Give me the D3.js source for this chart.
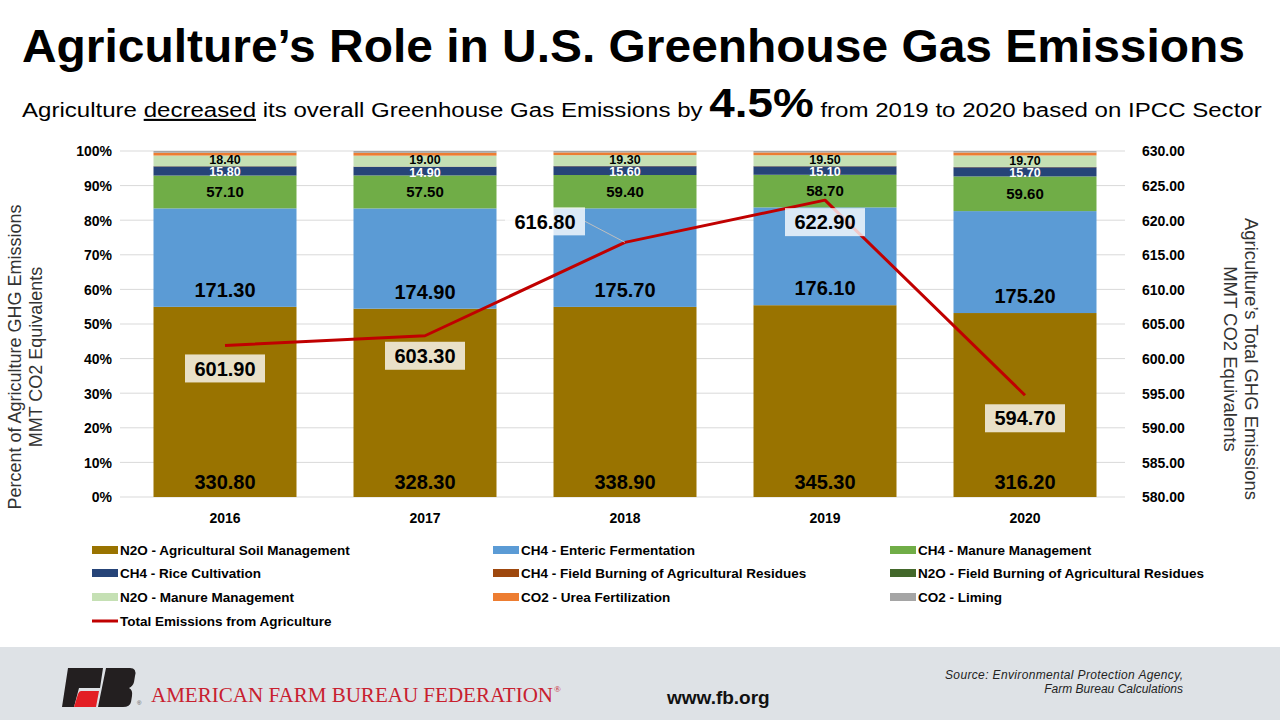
<!DOCTYPE html>
<html>
<head>
<meta charset="utf-8">
<script src="https://cdn.jsdelivr.net/npm/d3@7"></script>
<style>
  body { margin: 0; background: #fff; }
  svg { display: block; font-family: "Liberation Sans", Arial, sans-serif; }
</style>
</head>
<body>
<div id="chart"></div>
<script>
// data
var years = ["2016", "2017", "2018", "2019", "2020"];
var seriesNames = [
  "N2O - Agricultural Soil Management",
  "CH4 - Enteric Fermentation",
  "CH4 - Manure Management",
  "CH4 - Rice Cultivation",
  "CH4 - Field Burning of Agricultural Residues",
  "N2O - Field Burning of Agricultural Residues",
  "N2O - Manure Management",
  "CO2 - Urea Fertilization",
  "CO2 - Liming"
];
var soilMgmt     = [330.8, 328.3, 338.9, 345.3, 316.2];
var enteric      = [171.3, 174.9, 175.7, 176.1, 175.2];
var manureCH4    = [57.1, 57.5, 59.4, 58.7, 59.6];
var rice         = [15.8, 14.9, 15.6, 15.1, 15.7];
var burningCH4   = [0.4, 0.4, 0.4, 0.4, 0.4];
var burningN2O   = [0.2, 0.2, 0.2, 0.2, 0.2];
var manureN2O    = [18.4, 19.0, 19.3, 19.5, 19.7];
var urea         = [4.9, 5.0, 4.8, 5.0, 5.1];
var liming       = [3.0, 3.1, 2.5, 2.6, 2.6];
var totalEmissions = [601.9, 603.3, 616.8, 622.9, 594.7];
var pctTicks = [0, 0.1, 0.2, 0.3, 0.4, 0.5, 0.6, 0.7, 0.8, 0.9, 1];
var totTicks = [580, 585, 590, 595, 600, 605, 610, 615, 620, 625, 630];

var seriesValues = [soilMgmt, enteric, manureCH4, rice, burningCH4, burningN2O, manureN2O, urea, liming];
var colors = ["#997300", "#5b9bd5", "#70ad47", "#264478", "#9e480e", "#43682b", "#c5e0b4", "#ed7d31", "#a5a5a5"];
var lineColor = "#c00000";

var width = 1280, height = 720;
var svg = d3.select("#chart").append("svg")
  .attr("width", width).attr("height", height);

// ---- title ----
svg.append("text")
  .attr("x", 22).attr("y", 62)
  .attr("textLength", 1223).attr("lengthAdjust", "spacingAndGlyphs")
  .style("font-size", "47px").style("font-weight", "bold")
  .text("Agriculture\u2019s Role in U.S. Greenhouse Gas Emissions");

var sub = svg.append("text")
  .attr("x", 0).attr("y", 117)
  .style("font-size", "21px").attr("fill", "#000");
sub.append("tspan").text("Agriculture ");
sub.append("tspan").style("text-decoration", "underline").text("decreased");
sub.append("tspan").text(" its overall Greenhouse Gas Emissions by ");
sub.append("tspan").style("font-size", "40px").style("font-weight", "bold").text("4.5%");
sub.append("tspan").text("  from 2019 to 2020 based on IPCC Sector");
var subLen = sub.node().getComputedTextLength();
sub.attr("transform", "translate(22,0) scale(" + (1240 / subLen) + ",1)");

// ---- scales ----
var x = d3.scaleBand().domain(years).range([125, 1125]).paddingInner(0.285).paddingOuter(0.1425);
var yPct = d3.scaleLinear().domain([0, 1]).range([497, 151]);
var yTot = d3.scaleLinear().domain([580, 630]).range([497, 151]);

// gridlines
svg.append("g").selectAll("line").data(pctTicks).enter().append("line")
  .attr("x1", 120).attr("x2", 1125)
  .attr("y1", function(d) { return yPct(d); })
  .attr("y2", function(d) { return yPct(d); })
  .attr("stroke", "#d9d9d9").attr("stroke-width", 1);

// left axis
var leftAxis = svg.append("g").attr("transform", "translate(112,0)")
  .call(d3.axisLeft(yPct).tickValues(pctTicks).tickFormat(d3.format(".0%")).tickSize(0).tickPadding(0));
leftAxis.select(".domain").remove();
leftAxis.selectAll("text").style("font-size", "14px").style("font-weight", "bold")
  .style("font-family", "Liberation Sans, Arial, sans-serif").attr("fill", "#000").attr("dy", "0.35em");

// right axis
var rightAxis = svg.append("g").attr("transform", "translate(1142,0)")
  .call(d3.axisRight(yTot).tickValues(totTicks).tickFormat(d3.format(".2f")).tickSize(0).tickPadding(0));
rightAxis.select(".domain").remove();
rightAxis.selectAll("text").style("font-size", "14px").style("font-weight", "bold")
  .style("font-family", "Liberation Sans, Arial, sans-serif").attr("fill", "#000").attr("dy", "0.35em");

// bottom axis
var bottomAxis = svg.append("g").attr("transform", "translate(0,510)")
  .call(d3.axisBottom(x).tickSize(0).tickPadding(0));
bottomAxis.select(".domain").remove();
bottomAxis.selectAll("text").style("font-size", "14px").style("font-weight", "bold")
  .style("font-family", "Liberation Sans, Arial, sans-serif").attr("fill", "#000").attr("dy", "0.9em");

// axis titles
var lt = svg.append("text").attr("transform", "translate(21,357) rotate(-90)")
  .attr("text-anchor", "middle").style("font-size", "18px").attr("fill", "#333");
lt.append("tspan").attr("x", 0).attr("dy", 0).text("Percent of Agriculture GHG Emissions");
lt.append("tspan").attr("x", 0).attr("dy", 21).text("MMT CO2 Equivalents");

var rt = svg.append("text").attr("transform", "translate(1245,359) rotate(90)")
  .attr("text-anchor", "middle").style("font-size", "18.5px").attr("fill", "#333");
rt.append("tspan").attr("x", 0).attr("dy", 0).text("Agriculture\u2019s Total GHG Emissions");
rt.append("tspan").attr("x", 0).attr("dy", 21).text("MMT CO2 Equivalents");

// ---- stacked percent bars ----
var rows = years.map(function(y, i) {
  var row = { year: y };
  var tot = d3.sum(seriesValues, function(s) { return s[i]; });
  seriesValues.forEach(function(s, k) { row["s" + k] = s[i] / tot; row["v" + k] = s[i]; });
  return row;
});
var keys = seriesValues.map(function(s, k) { return "s" + k; });
var stacked = d3.stack().keys(keys)(rows);

var layers = svg.append("g").selectAll("g").data(stacked).enter().append("g")
  .attr("fill", function(d, k) { return colors[k]; });
layers.selectAll("rect").data(function(d) { return d; }).enter().append("rect")
  .attr("x", function(d) { return x(d.data.year); })
  .attr("width", x.bandwidth())
  .attr("y", function(d) { return yPct(d[1]); })
  .attr("height", function(d) { return yPct(d[0]) - yPct(d[1]); });

// segment labels (base = placed just inside the segment's bottom, shift = small nudge)
var labelStyle = {
  0: { size: 20, color: "#000", base: 15 },
  1: { size: 20, color: "#000", base: 17 },
  2: { size: 15, color: "#000" },
  3: { size: 12.5, color: "#fff", shift: 1 },
  6: { size: 12.5, color: "#000", shift: -1 }
};
stacked.forEach(function(layer, k) {
  var st = labelStyle[k];
  if (!st) return;
  svg.append("g").selectAll("text").data(layer).enter().append("text")
    .attr("x", function(d) { return x(d.data.year) + x.bandwidth() / 2; })
    .attr("y", function(d) {
      if (st.base) return yPct(d[0]) - st.base;
      return (yPct(d[0]) + yPct(d[1])) / 2 + (st.shift || 0);
    })
    .attr("dy", "0.35em")
    .attr("text-anchor", "middle")
    .style("font-size", st.size + "px").style("font-weight", "bold")
    .attr("fill", st.color)
    .text(function(d) { return d3.format(".2f")(d.data["v" + k]); });
});

// ---- total line ----
var cx = function(i) { return x(years[i]) + x.bandwidth() / 2; };
var line = d3.line()
  .x(function(d, i) { return cx(i); })
  .y(function(d) { return yTot(d); });
svg.append("path").datum(totalEmissions)
  .attr("d", line).attr("fill", "none")
  .attr("stroke", lineColor).attr("stroke-width", 3).attr("stroke-linejoin", "round");

// line labels (offsets of the label boxes from their points)
var labelOffsets = [[0, 23], [0, 20], [-80, -21], [0, 22], [0, 23]];
totalEmissions.forEach(function(v, i) {
  var px = cx(i), py = yTot(v);
  var lx = px + labelOffsets[i][0], ly = py + labelOffsets[i][1];
  if (i === 2) {
    svg.append("line").attr("x1", lx + 40).attr("y1", ly)
      .attr("x2", px).attr("y2", py).attr("stroke", "#bfbfbf").attr("stroke-width", 1);
  }
  svg.append("rect").attr("x", lx - 40).attr("y", ly - 14).attr("width", 80).attr("height", 28)
    .attr("fill", "#fff").attr("fill-opacity", 0.78);
  svg.append("text").attr("x", lx).attr("y", ly).attr("dy", "0.36em")
    .attr("text-anchor", "middle").style("font-size", "20px").style("font-weight", "bold")
    .text(d3.format(".2f")(v));
});

// ---- legend ----
var legendCols = [92, 493, 890], legendRows = [550, 573, 597, 621];
var legendItems = seriesNames.map(function(n, k) { return { name: n, color: colors[k], line: false }; });
legendItems.push({ name: "Total Emissions from Agriculture", color: lineColor, line: true });
var leg = svg.append("g").selectAll("g").data(legendItems).enter().append("g")
  .attr("transform", function(d, i) {
    return "translate(" + legendCols[i % 3] + "," + legendRows[Math.floor(i / 3)] + ")";
  });
leg.filter(function(d) { return !d.line; }).append("rect")
  .attr("x", 0).attr("y", -4).attr("width", 26).attr("height", 8)
  .attr("fill", function(d) { return d.color; });
leg.filter(function(d) { return d.line; }).append("line")
  .attr("x1", 0).attr("x2", 26).attr("y1", 0).attr("y2", 0)
  .attr("stroke", function(d) { return d.color; }).attr("stroke-width", 3);
leg.append("text").attr("x", 28).attr("dy", "0.35em")
  .style("font-size", "13.5px").style("font-weight", "bold")
  .text(function(d) { return d.name; });

// ---- footer ----
svg.append("rect").attr("x", 0).attr("y", 647).attr("width", width).attr("height", 73).attr("fill", "#dee2e6");
var logo = svg.append("g");
logo.append("path").attr("d", "M68,668 L103,668 L100,688 L79,688 L74,707 L62,707 Z").attr("fill", "#231f20");
logo.append("path").attr("d", "M81,691 L99,691 L96,707 L74,707 L78,694 Q79,691 81,691 Z").attr("fill", "#e31e24");
logo.append("path").attr("d", "M106,668 L130,668 Q137,668 135,676 L134,682 Q133,686 129,688 Q133,690 132,696 L131,702 Q130,707 123,707 L98,707 Z").attr("fill", "#231f20");
svg.append("text").attr("x", 137).attr("y", 705)
  .style("font-size", "6px").attr("fill", "#555").text("\u00ae");
svg.append("text").attr("x", 151).attr("y", 702)
  .attr("textLength", 402).attr("lengthAdjust", "spacingAndGlyphs")
  .style("font-family", "Liberation Serif, Times New Roman, serif").style("font-size", "21px")
  .attr("fill", "#c8202f").text("AMERICAN FARM BUREAU FEDERATION");
svg.append("text").attr("x", 554).attr("y", 692)
  .style("font-family", "Liberation Serif, serif").style("font-size", "9px").attr("fill", "#c8202f").text("\u00ae");
svg.append("text").attr("x", 667).attr("y", 704)
  .style("font-size", "19px").style("font-weight", "bold").attr("fill", "#111").text("www.fb.org");
svg.append("text").attr("x", 1183).attr("y", 679).attr("text-anchor", "end")
  .attr("textLength", 238).attr("lengthAdjust", "spacing")
  .style("font-size", "12px").style("font-style", "italic").attr("fill", "#222")
  .text("Source:  Environmental  Protection Agency,");
svg.append("text").attr("x", 1183).attr("y", 693).attr("text-anchor", "end")
  .style("font-size", "12px").style("font-style", "italic").attr("fill", "#222")
  .text("Farm Bureau Calculations");
</script>
</body>
</html>
